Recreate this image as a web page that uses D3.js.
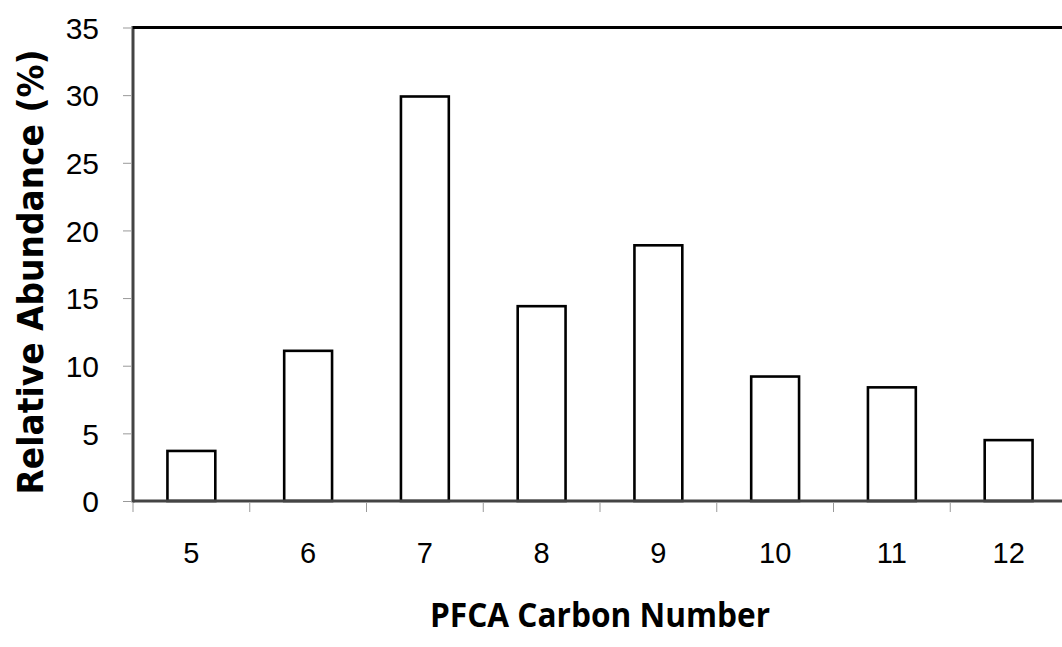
<!DOCTYPE html>
<html>
<head>
<meta charset="utf-8">
<script src="https://cdn.jsdelivr.net/npm/d3@7"></script>
<style>
  html, body { margin: 0; padding: 0; background: #fff; }
  svg { display: block; }
</style>
</head>
<body>
<svg id="chart" width="1062" height="647"></svg>
<script>
const categories = ["5", "6", "7", "8", "9", "10", "11", "12"];
const values = [3.7, 11.1, 29.9, 14.4, 18.9, 9.2, 8.4, 4.5];
const yTicks = [0, 5, 10, 15, 20, 25, 30, 35];
const xTitle = "PFCA Carbon Number";
const yTitle = "Relative Abundance (%)";

(function () {
const svg = d3.select("#chart");
const pLeft = 133, pRight = 1067, pTop = 27.5, pBottom = 501;

const x = d3.scaleBand().domain(categories).range([pLeft, pRight]).padding(0);
const y = d3.scaleLinear().domain([0, 35]).range([pBottom, pTop]);
const barFrac = 0.41;

// bars
svg.append("g").selectAll("rect")
  .data(categories.map((c, i) => ({c, v: values[i]})))
  .join("rect")
  .attr("x", d => x(d.c) + x.bandwidth() * (1 - barFrac) / 2)
  .attr("width", x.bandwidth() * barFrac)
  .attr("y", d => y(d.v))
  .attr("height", d => y(0) - y(d.v))
  .attr("fill", "#fff")
  .attr("stroke", "#000")
  .attr("stroke-width", 2.6);

// y axis
const yAxis = svg.append("g")
  .attr("transform", `translate(${pLeft},0)`)
  .call(d3.axisLeft(y).tickValues(yTicks).tickSize(10).tickPadding(24));
yAxis.select(".domain").remove();
yAxis.selectAll(".tick line").attr("stroke", "#999").attr("stroke-width", 1).attr("x2", -2).attr("x1", -10);
yAxis.selectAll(".tick text")
  .attr("font-family", "'Liberation Sans', Arial, sans-serif")
  .attr("font-size", 30).attr("fill", "#000").attr("x", -34).attr("dy", "0.36em");

// x axis
const xAxis = svg.append("g")
  .attr("transform", `translate(0,${pBottom})`)
  .call(d3.axisBottom(x).tickSize(0).tickPadding(0));
xAxis.select(".domain").remove();
xAxis.selectAll(".tick text")
  .attr("font-family", "'Liberation Sans', Arial, sans-serif")
  .attr("font-size", 29).attr("fill", "#000").attr("y", 62).attr("dy", 0);
// boundary ticks
const bounds = categories.map(c => x(c));
svg.append("g").selectAll("line").data(bounds).join("line")
  .attr("x1", d => d).attr("x2", d => d)
  .attr("y1", pBottom + 2).attr("y2", pBottom + 11)
  .attr("stroke", "#999").attr("stroke-width", 1);

// frame lines
svg.append("line").attr("x1", pLeft).attr("x2", 1062).attr("y1", pBottom).attr("y2", pBottom)
  .attr("stroke", "#444").attr("stroke-width", 3);
svg.append("line").attr("x1", pLeft).attr("x2", pLeft).attr("y1", pTop - 1.5).attr("y2", pBottom + 1.5)
  .attr("stroke", "#444").attr("stroke-width", 3);
svg.append("line").attr("x1", pLeft).attr("x2", 1062).attr("y1", pTop).attr("y2", pTop)
  .attr("stroke", "#000").attr("stroke-width", 3);

// titles
svg.append("text")
  .attr("x", 600).attr("y", 627)
  .attr("text-anchor", "middle")
  .attr("font-family", "'Open Sans', sans-serif").attr("font-weight", "bold")
  .attr("font-size", 34)
  .attr("textLength", 340).attr("lengthAdjust", "spacingAndGlyphs")
  .text(xTitle);

svg.append("text")
  .attr("transform", "translate(43,272) rotate(-90)")
  .attr("text-anchor", "middle")
  .attr("font-family", "'DejaVu Sans', sans-serif").attr("font-weight", "bold")
  .attr("font-size", 36)
  .attr("textLength", 445).attr("lengthAdjust", "spacingAndGlyphs")
  .text(yTitle);
})();
</script>
</body>
</html>
